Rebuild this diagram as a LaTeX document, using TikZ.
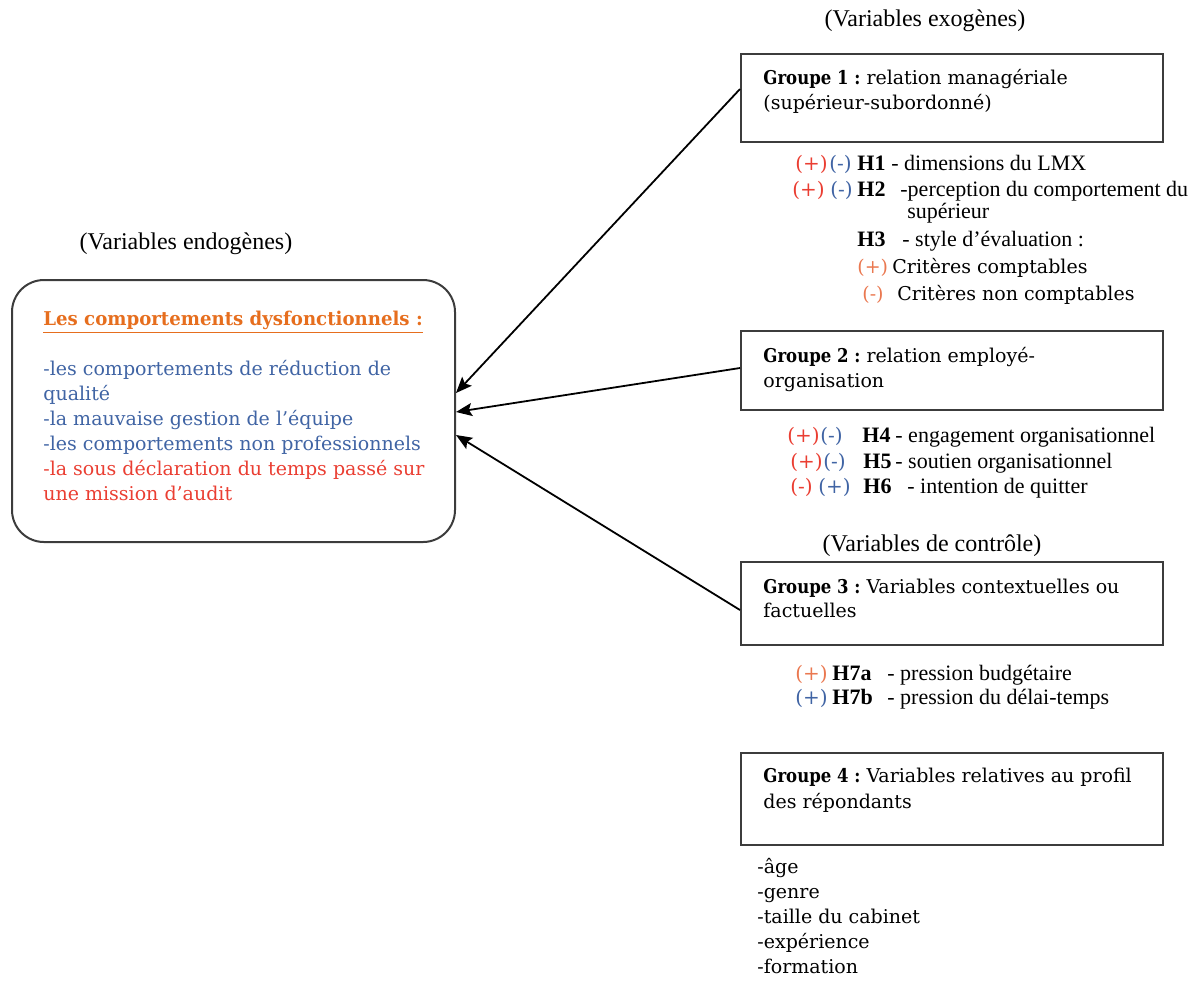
\documentclass[tikz,border=0pt]{standalone}
\usepackage{fontspec}
\usepackage{graphicx}
\setmainfont{Liberation Serif}
\newfontfamily\cambria{DejaVu Serif}
\usetikzlibrary{arrows.meta}
\definecolor{bordgris}{RGB}{60,60,60}
\definecolor{titreorange}{RGB}{230,110,30}
\definecolor{bleutexte}{RGB}{64,100,164}
\definecolor{rougetexte}{RGB}{234,62,50}
\definecolor{orangesigne}{RGB}{234,120,80}
\newcommand{\hsigne}[2]{{\cambria\fontsize{10}{12}\selectfont\textcolor{#1}{#2}}}
\newcommand{\grp}[1]{\scalebox{0.87}[1]{\textbf{Groupe #1 :}}}
\begin{document}
\begin{tikzpicture}[x=0.5pt, y=-0.5pt,
    groupe/.style={rectangle, draw=bordgris, line width=1pt, minimum width=211pt, inner sep=0pt},
    endobox/.style={rectangle, draw=bordgris, line width=1pt, rounded corners=16pt, minimum width=221.5pt, minimum height=131pt, inner sep=0pt},
    texte/.style={anchor=base west, inner sep=0pt, font=\cambria\fontsize{9.5}{12}\selectfont},
    hyp/.style={anchor=base west, inner sep=0pt, font=\fontsize{11}{13}\selectfont},
    titrevar/.style={anchor=base, inner sep=0pt, font=\fontsize{12}{14}\selectfont},
    fleche/.style={->, >={Stealth[length=8pt,width=6.5pt,inset=1.5pt]}, line width=0.9pt, black}
]
\useasboundingbox (0,0) rectangle (1198,981);

% Titres des familles de variables
\node[titrevar] (exo) at (925,26) {(Variables exogènes)};
\node[titrevar] (endogene) at (186,249) {(Variables endogènes)};
\node[titrevar] (controle) at (932,551) {(Variables de contrôle)};

% Bloc des comportements dysfonctionnels (a gauche)
\node[endobox] (endo) at (233.5,411) {};
\node[texte, font=\cambria\bfseries\fontsize{9.5}{12}\selectfont, text=titreorange] (titre) at (43,325) {\scalebox{0.955}[1]{\underline{Les comportements dysfonctionnels :}}};
\foreach \ligne/\coul [count=\i] in {{-les comportements de réduction de}/bleutexte, {qualité}/bleutexte, {-la mauvaise gestion de l’équipe}/bleutexte, {-les comportements non professionnels}/bleutexte, {-la sous déclaration du temps passé sur}/rougetexte, {une mission d’audit}/rougetexte}
    \node[texte, text=\coul] (endo\i) at (43,350+25*\i) {\ligne};

% Groupe 1
\node[groupe, minimum height=44pt] (g1) at (952,98) {};
\node[texte] (g1a) at (763,84) {\grp{1} relation managériale};
\node[texte] (g1b) at (763,109) {(supérieur-subordonné)};
\node[hyp] (h1) at (795,170) {\makebox[17pt][l]{\hsigne{rougetexte}{(+)}}\makebox[14pt][l]{\hsigne{bleutexte}{(-)}}\makebox[17pt][l]{\textbf{H1}}- dimensions du LMX};
\node[hyp] (h2) at (792,196) {\makebox[19pt][l]{\hsigne{rougetexte}{(+)}}\makebox[13.5pt][l]{\hsigne{bleutexte}{(-)}}\makebox[21.5pt][l]{\textbf{H2}}-perception du comportement du};
\node[hyp] (h2b) at (907,218) {supérieur};
\node[hyp] (h3) at (857,246) {\makebox[22.5pt][l]{\textbf{H3}}- style d’évaluation :};
\node[texte] (h3a) at (857,273) {\makebox[17.5pt][l]{\textcolor{orangesigne}{(+)}}Critères comptables};
\node[texte] (h3b) at (862,300) {\makebox[17.5pt][l]{\textcolor{orangesigne}{(-)}}Critères non comptables};

% Groupe 2
\node[groupe, minimum height=39.5pt] (g2) at (952,370.5) {};
\node[texte] (g2a) at (763,362) {\grp{2} relation employé-};
\node[texte] (g2b) at (763,387) {organisation};
\node[hyp] (h4) at (787,442) {\makebox[16.5pt][l]{\hsigne{rougetexte}{(+)}}\makebox[21pt][l]{\hsigne{bleutexte}{(-)}}\makebox[16.5pt][l]{\textbf{H4}}- engagement organisationnel};
\node[hyp] (h5) at (790,468) {\makebox[16.5pt][l]{\hsigne{rougetexte}{(+)}}\makebox[20pt][l]{\hsigne{bleutexte}{(-)}}\makebox[16pt][l]{\textbf{H5}}- soutien organisationnel};
\node[hyp] (h6) at (790,493) {\makebox[14pt][l]{\hsigne{rougetexte}{(-)}}\makebox[22.5pt][l]{\hsigne{bleutexte}{(+)}}\makebox[22pt][l]{\textbf{H6}}- intention de quitter};

% Groupe 3
\node[groupe, minimum height=41.5pt] (g3) at (952,603.5) {};
\node[texte] (g3a) at (763,593) {\grp{3} Variables contextuelles ou};
\node[texte] (g3b) at (763,617) {factuelles};
\node[hyp] (h7a) at (795,680) {\makebox[18.5pt][l]{\hsigne{orangesigne}{(+)}}\makebox[27.5pt][l]{\textbf{H7a}}- pression budgétaire};
\node[hyp] (h7b) at (795,704) {\makebox[18.5pt][l]{\hsigne{bleutexte}{(+)}}\makebox[27.5pt][l]{\textbf{H7b}}- pression du délai-temps};

% Groupe 4
\node[groupe, minimum height=46pt] (g4) at (952,799) {};
\node[texte] (g4a) at (763,782) {\grp{4} Variables relatives au profil};
\node[texte] (g4b) at (763,808) {des répondants};
\foreach \var [count=\i] in {-âge, -genre, -taille du cabinet, -expérience, -formation}
    \node[texte] (profil\i) at (757,848+25*\i) {\var};

% Fleches vers les comportements dysfonctionnels
\draw[fleche] ([yshift=4.5pt]g1.west) -- ([yshift=9pt]endo.east);
\draw[fleche] ([yshift=1.25pt]g2.west) -- ([yshift=-0.5pt]endo.east);
\draw[fleche] ([yshift=-3.25pt]g3.west) -- ([yshift=-12pt]endo.east);

\end{tikzpicture}
\end{document}
